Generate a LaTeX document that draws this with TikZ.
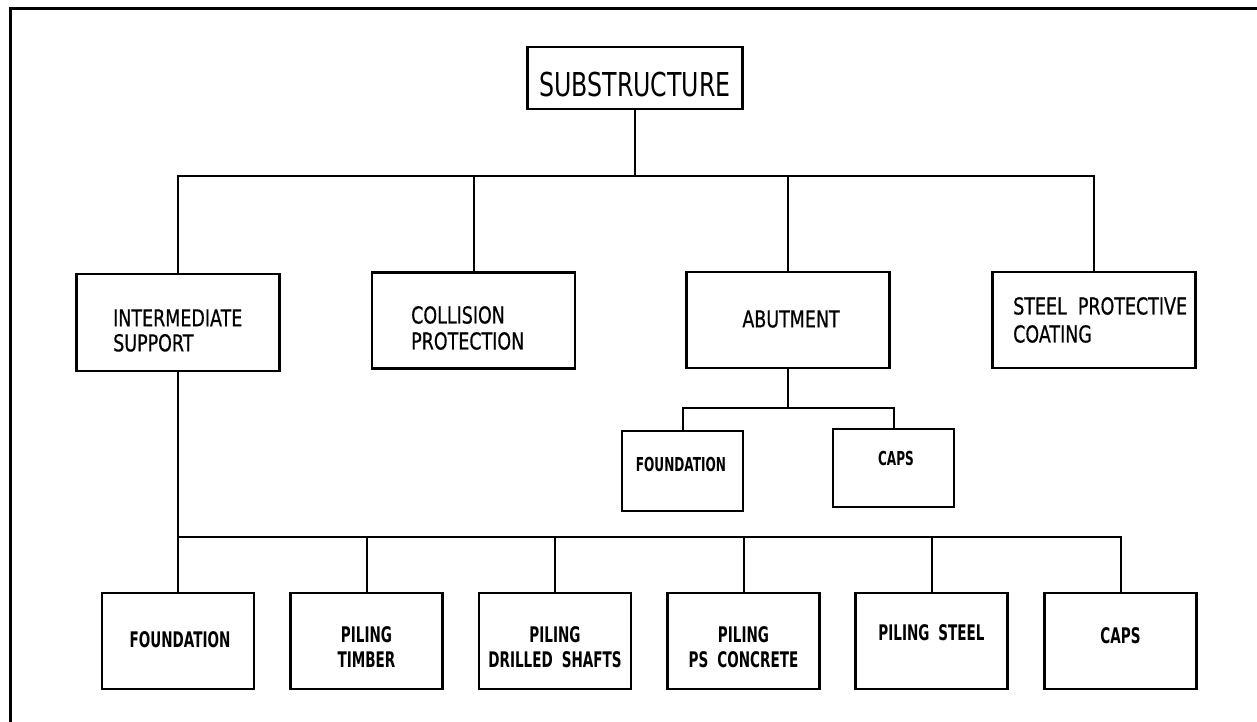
\documentclass[tikz,border=0pt]{standalone}
\usepackage{fontspec}
% condensed drafting-style lettering
\newfontfamily\cadtitle{DejaVu Sans}[FakeStretch=0.72]
\newfontfamily\cadreg{DejaVu Sans}[FakeStretch=0.75, WordSpace=2.0, FakeBold=0.6]
\newfontfamily\cadbold{DejaVu Sans}[FakeStretch=0.63, WordSpace=1.9]

\tikzset{
  frameline/.style={line width=3pt, line cap=butt},
  boxbase/.style={draw, line width=2.2pt, inner sep=0pt},
  topbox/.style={boxbase, minimum width=215pt, minimum height=62pt},
  midbox/.style={boxbase, minimum width=203pt, minimum height=96pt},
  leafbox/.style={boxbase, minimum width=152pt, minimum height=96pt},
  subbox/.style={boxbase, minimum width=121pt, minimum height=80pt},
  link/.style={line width=2pt, line join=miter},
  titletext/.style={inner sep=0pt, font=\cadtitle\fontsize{32.9}{36}\selectfont},
  midtext/.style={inner sep=0pt, align=left, font=\cadreg\fontsize{23.3}{26}\selectfont},
  leaftext/.style={inner sep=0pt, align=center, font=\cadbold\bfseries\fontsize{21.5}{25}\selectfont},
  subtext/.style={inner sep=0pt, align=center, font=\cadbold\bfseries\fontsize{19.2}{22}\selectfont},
}

\begin{document}
\begin{tikzpicture}[x=1pt, y=-1pt]
  \useasboundingbox (0,0) rectangle (1257,722);

  % sheet border (top and left edges)
  \draw[frameline] (1262,9) -- (10,9) -- (10,727);

  % root
  \node[topbox] (sub) at (635,78) {};
  \node[titletext] (subt) at (635,84.5) {SUBSTRUCTURE};

  % second level
  \node[midbox, minimum height=97pt] (is) at (178,322.5) {};
  \node[midbox] (cp) at (473.5,320.5) {};
  \node[midbox] (ab) at (788,320) {};
  \node[midbox] (st) at (1094,320) {};

  \node[midtext, anchor=west, font=\cadreg\fontsize{23.3}{25}\selectfont] (ist) at (113,330.5) {INTERMEDIATE\\SUPPORT};
  \node[midtext, anchor=west] (cpt) at (411,328) {COLLISION\\PROTECTION};
  \node[midtext] (abt) at (791,319) {ABUTMENT};
  \node[midtext, anchor=west, font=\cadreg\fontsize{23.3}{28}\selectfont] (stt) at (1013,320) {STEEL PROTECTIVE\\COATING};

  % abutment parts
  \node[subbox] (af) at (682.5,471) {};
  \node[subbox, minimum height=78pt] (ac) at (893.5,468) {};
  \node[subtext] (aft) at (681,465) {FOUNDATION};
  \node[subtext] (act) at (896,459) {CAPS};

  % intermediate support parts
  \node[leafbox] (f1) at (178,641) {};
  \node[leafbox] (f2) at (366.5,641) {};
  \node[leafbox] (f3) at (555,641) {};
  \node[leafbox] (f4) at (743.5,641) {};
  \node[leafbox] (f5) at (931.5,641) {};
  \node[leafbox] (f6) at (1120.5,641) {};

  \node[leaftext] (f1t) at (180,640) {FOUNDATION};
  \node[leaftext] (f2t) at (366.5,647.5) {PILING\\TIMBER};
  \node[leaftext] (f3t) at (555,647.5) {PILING\\DRILLED SHAFTS};
  \node[leaftext] (f4t) at (743.5,647.5) {PILING\\PS CONCRETE};
  \node[leaftext] (f5t) at (931.5,633) {PILING STEEL};
  \node[leaftext] (f6t) at (1120.5,636) {CAPS};

  % junction points of the bus lines
  \coordinate (bustop) at (635,176);
  \coordinate (busab) at (788,408);
  \coordinate (busbot) at (178,537);

  % root to second level
  \draw[link] (sub.south) -- (bustop);
  \draw[link] (is.north) -- (is.north |- bustop) -- (st.north |- bustop) -- (st.north);
  \draw[link] (cp.north) -- (cp.north |- bustop);
  \draw[link] (ab.north) -- (ab.north |- bustop);

  % abutment to its parts
  \draw[link] (ab.south) -- (busab);
  \draw[link] (af.north) -- (af.north |- busab) -- (ac.north |- busab) -- (ac.north);

  % intermediate support to its parts
  \draw[link] (is.south) -- (f1.north);
  \draw[link] (f1.north |- busbot) -- (f6.north |- busbot) -- (f6.north);
  \foreach \n in {f2,f3,f4,f5}
    \draw[link] (\n.north) -- (\n.north |- busbot);
\end{tikzpicture}
\end{document}
